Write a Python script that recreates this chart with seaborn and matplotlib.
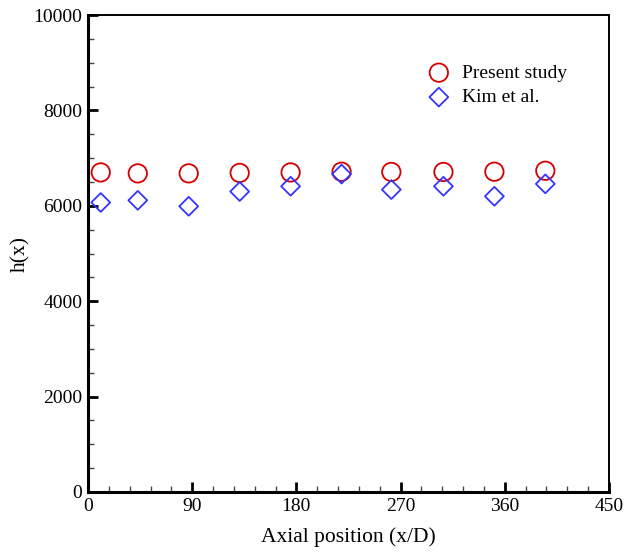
import numpy as np
import pandas as pd
import seaborn as sns
import matplotlib.pyplot as plt
from matplotlib.ticker import MultipleLocator

# Số liệu
axial_pos = [11, 43, 87, 131, 175, 219, 262, 307, 351, 395]
present_study = [6700, 6680, 6680, 6690, 6700, 6715, 6710, 6710, 6715, 6735]
kim_et_al = [6070, 6115, 5990, 6300, 6410, 6665, 6340, 6410, 6200, 6460]

x_ticks = [0, 90, 180, 270, 360, 450]
y_ticks = [0, 2000, 4000, 6000, 8000, 10000]

sns.set_style("ticks", {"axes.edgecolor": "black", "xtick.color": "black",
                        "ytick.color": "black", "text.color": "black",
                        "axes.labelcolor": "black"})
plt.rcParams["font.family"] = ["Liberation Serif", "DejaVu Serif"]
plt.rcParams["xtick.direction"] = "in"
plt.rcParams["ytick.direction"] = "in"

df_present = pd.DataFrame({"x": axial_pos, "h": present_study})
df_kim = pd.DataFrame({"x": axial_pos, "h": kim_et_al})

fig = plt.figure(figsize=(6.25, 5.52), dpi=100)
ax = fig.add_axes([0.1408, 0.1087, 0.8336, 0.8641])

sns.scatterplot(data=df_present, x="x", y="h", ax=ax, marker="o", s=175,
                facecolor="none", edgecolor="#d40000", linewidth=1.3,
                label="Present study", clip_on=False, zorder=3)
sns.scatterplot(data=df_kim, x="x", y="h", ax=ax, marker="D", s=92,
                facecolor="none", edgecolor="#3535ff", linewidth=1.3,
                label="Kim et al.", clip_on=False, zorder=4)

ax.set_xlim(0, 450)
ax.set_ylim(0, 10000)
ax.set_xticks(x_ticks)
ax.set_yticks(y_ticks)
ax.xaxis.set_minor_locator(MultipleLocator(18))
ax.yaxis.set_minor_locator(MultipleLocator(500))
ax.tick_params(which="major", length=7, width=2.0, labelsize=14, pad=4,
               colors="black")
ax.tick_params(which="minor", length=4, width=1.0, color="#444444")
ax.tick_params(top=False, right=False, which="both")

for side in ["left", "bottom"]:
    ax.spines[side].set_linewidth(2.2)
for side in ["top", "right"]:
    ax.spines[side].set_linewidth(1.4)

ax.set_xlabel("Axial position (x/D)", fontsize=15.5, labelpad=9)
ax.set_ylabel("h(x)", fontsize=15.5, labelpad=2)

ax.legend(loc="upper left", bbox_to_anchor=(0.651, 0.897), frameon=False,
          fontsize=14, handletextpad=0.6, labelspacing=0.35,
          borderaxespad=0, borderpad=0, handlelength=1.2)

fig.savefig("out.png", dpi=100)
